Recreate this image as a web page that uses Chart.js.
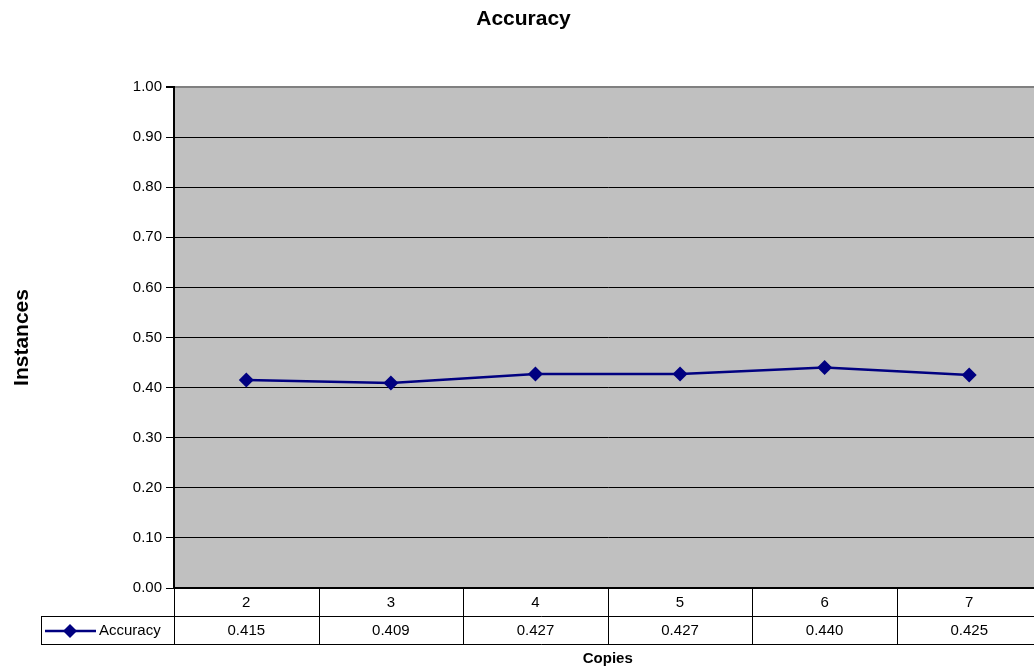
<!DOCTYPE html>
<html>
<head>
<meta charset="utf-8">
<script src="https://cdn.jsdelivr.net/npm/chart.js@4.4.1/dist/chart.umd.min.js"></script>
<style>
    html, body { margin: 0; padding: 0; background: #fff; overflow: hidden; }
    #wrap { width: 1049px; height: 669px; position: relative; }
</style>
</head>
<body>
<div id="wrap"><canvas id="accuracyChart"></canvas></div>
<script>
// chart data
const copies = ['2', '3', '4', '5', '6', '7'];
const accuracy = [0.415, 0.409, 0.427, 0.427, 0.440, 0.425];
const seriesName = 'Accuracy';

const FONT = "'Liberation Sans', Arial, sans-serif";
const NAVY = '#000080';

// grey plot background
const plotBackground = {
    id: 'plotBackground',
    beforeDraw(chart) {
        const { ctx, chartArea: a } = chart;
        ctx.save();
        ctx.fillStyle = '#c0c0c0';
        ctx.fillRect(a.left, a.top, a.right - a.left, a.bottom - a.top);
        ctx.restore();
    }
};

// data table under the plot (Excel style)
const dataTable = {
    id: 'dataTable',
    afterDraw(chart) {
        const { ctx, chartArea: a } = chart;
        const x = chart.scales.x;
        const row1 = a.bottom + 28;
        const row2 = row1 + 28;
        const legendLeft = 41;
        const colW = (a.right - a.left) / copies.length;

        ctx.save();
        ctx.strokeStyle = '#000';
        ctx.lineWidth = 1;
        ctx.beginPath();
        ctx.moveTo(legendLeft, row1 + 0.5);
        ctx.lineTo(a.right, row1 + 0.5);
        ctx.moveTo(legendLeft, row2 + 0.5);
        ctx.lineTo(a.right, row2 + 0.5);
        ctx.moveTo(legendLeft + 0.5, row1);
        ctx.lineTo(legendLeft + 0.5, row2);
        for (let k = 0; k <= copies.length; k++) {
            const cx = Math.round(a.left + k * colW) + 0.5;
            ctx.moveTo(cx, a.bottom);
            ctx.lineTo(cx, row2);
        }
        ctx.stroke();

        // legend key
        const midY = (row1 + row2) / 2 + 1;
        ctx.strokeStyle = NAVY;
        ctx.lineWidth = 2.5;
        ctx.beginPath();
        ctx.moveTo(45, midY);
        ctx.lineTo(96, midY);
        ctx.stroke();
        ctx.fillStyle = NAVY;
        ctx.beginPath();
        ctx.moveTo(70, midY - 7);
        ctx.lineTo(77, midY);
        ctx.lineTo(70, midY + 7);
        ctx.lineTo(63, midY);
        ctx.closePath();
        ctx.fill();

        ctx.fillStyle = '#000';
        ctx.font = '15px ' + FONT;
        ctx.textBaseline = 'middle';
        ctx.textAlign = 'left';
        ctx.fillText(seriesName, 99, midY);

        ctx.textAlign = 'center';
        accuracy.forEach((v, i) => {
            ctx.fillText(v.toFixed(3), x.getPixelForValue(i), midY);
        });
        ctx.restore();
    }
};

const ctx = document.getElementById('accuracyChart').getContext('2d');
new Chart(ctx, {
    type: 'line',
    data: {
        labels: copies,
        datasets: [{
            label: seriesName,
            data: accuracy,
            borderColor: NAVY,
            backgroundColor: NAVY,
            borderWidth: 2.5,
            pointStyle: 'rectRot',
            pointRadius: 7.5,
            pointBorderWidth: 0,
            pointBackgroundColor: NAVY,
            tension: 0
        }]
    },
    options: {
        responsive: true,
        maintainAspectRatio: false,
        animation: false,
        layout: { padding: { left: 0, right: 2, top: 0, bottom: 0 } },
        plugins: {
            legend: { display: false },
            tooltip: { enabled: false },
            title: {
                display: true,
                text: 'Accuracy',
                color: '#000',
                font: { family: FONT, size: 21, weight: 'bold', lineHeight: 1.2 },
                padding: { top: 6.4, bottom: 55.4 }
            }
        },
        scales: {
            y: {
                min: 0,
                max: 1,
                afterFit(scale) { scale.width = 174; },
                ticks: {
                    stepSize: 0.1,
                    color: '#000',
                    padding: 4,
                    font: { family: FONT, size: 15 },
                    callback: value => Number(value).toFixed(2)
                },
                grid: {
                    color: c => (c.tick && c.tick.value === 1) ? '#808080' : '#000',
                    lineWidth: c => (c.tick && c.tick.value === 1) ? 2 : 1,
                    tickColor: '#000',
                    tickLength: 8
                },
                border: { display: true, color: '#000', width: 2 },
                title: {
                    display: true,
                    text: 'Instances',
                    color: '#000',
                    font: { family: FONT, size: 21, weight: 'bold', lineHeight: 1.2 },
                    padding: { top: 9.4, bottom: 0 }
                }
            },
            x: {
                offset: true,
                afterFit(scale) { scale.height = 81; },
                ticks: {
                    color: '#000',
                    padding: 6,
                    font: { family: FONT, size: 15 }
                },
                grid: { display: false, drawTicks: false },
                border: { display: true, color: '#000', width: 2 },
                title: {
                    display: true,
                    text: 'Copies',
                    color: '#000',
                    font: { family: FONT, size: 15, weight: 'bold', lineHeight: 1.2 },
                    padding: { top: 0, bottom: 1.5 }
                }
            }
        }
    },
    plugins: [plotBackground, dataTable]
});
</script>
</body>
</html>
